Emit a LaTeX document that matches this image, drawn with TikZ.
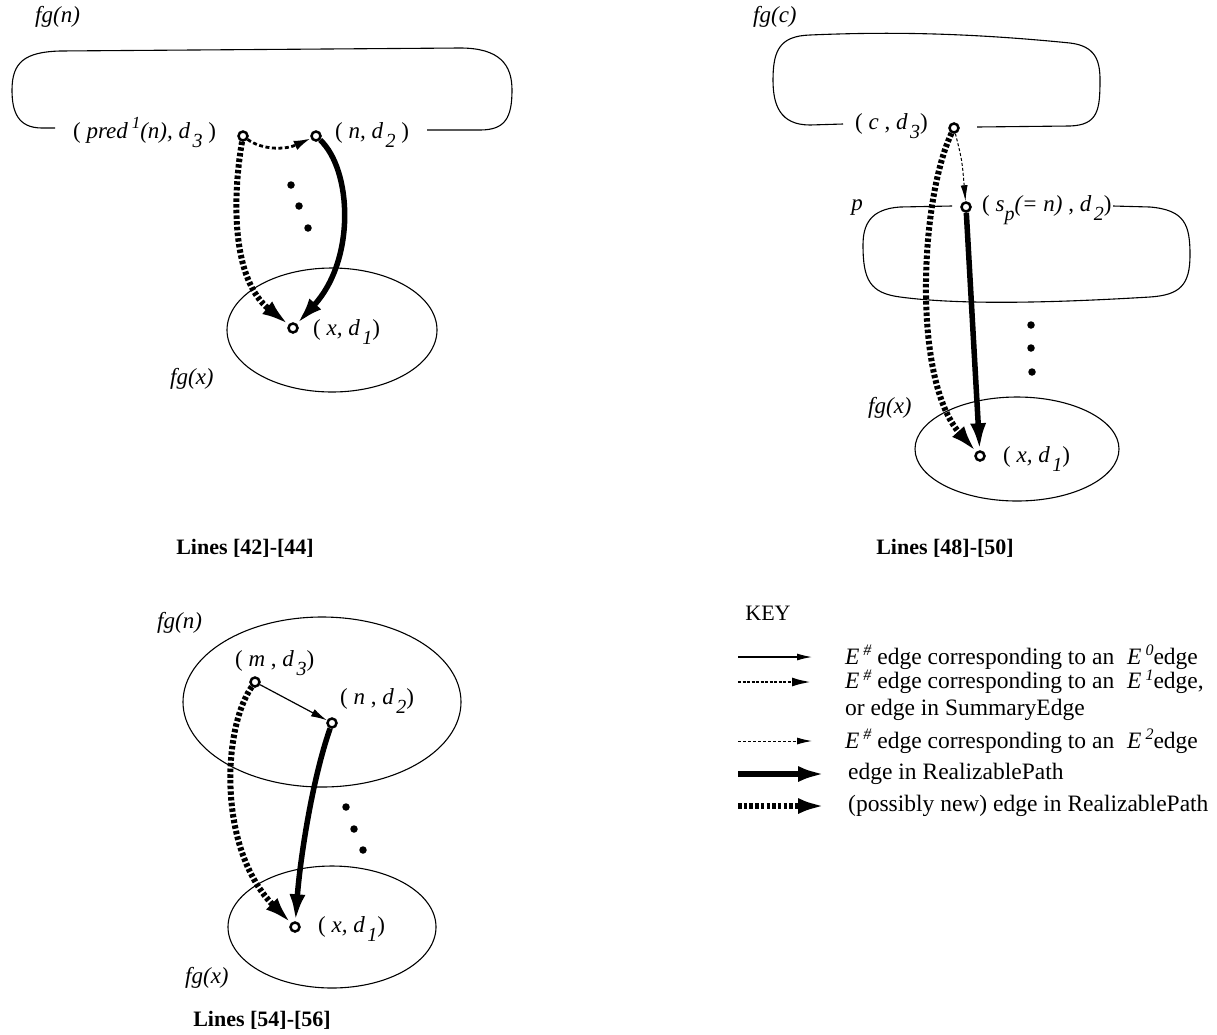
\documentclass[tikz,border=0pt]{standalone}
\usepackage{fontspec}
\setmainfont{Liberation Serif}
\usetikzlibrary{arrows.meta}
\newcommand{\sbs}[1]{\hspace{2.5pt}\raisebox{-0.42em}{\fontsize{20}{20}\selectfont\itshape #1}}
\newcommand{\sps}[1]{\raisebox{0.42em}{\fontsize{17}{17}\selectfont\itshape #1}}
\newcommand{\ksp}[1]{\raisebox{0.36em}{\fontsize{16}{16}\selectfont\itshape #1}}
\begin{document}
\begin{tikzpicture}[x=1pt,y=-1pt,font=\fontsize{23}{26}\selectfont,
  vtx/.style={circle,draw,line width=2.5pt,fill=white,inner sep=0pt,minimum size=9pt},
  lbl/.style={anchor=base west,inner sep=0pt},
  ital/.style={font=\fontsize{23}{26}\selectfont\itshape,inner sep=0pt},
  blob/.style={line width=1.1pt},
  dotm/.style={circle,fill,inner sep=0pt,minimum size=7.5pt},
  e0/.style={line width=1.2pt,-{Latex[length=16pt,width=8pt]}},
  e1/.style={line width=2.8pt,dash pattern=on 4pt off 2.5pt,-{Latex[length=17pt,width=10pt]}},
  e2/.style={line width=1pt,dash pattern=on 3pt off 2pt,-{Latex[length=16pt,width=7pt]}},
  rp/.style={line width=5.5pt,-{Latex[length=27pt,width=16pt]}},
  rpn/.style={line width=6pt,dash pattern=on 3.5pt off 2.2pt,-{Latex[length=27pt,width=16pt]}},
  captxt/.style={font=\fontsize{22}{24}\selectfont\bfseries,inner sep=0pt},
  keytxt/.style={anchor=west,inner sep=0pt,font=\fontsize{23.5}{25}\selectfont},
  keytxtb/.style={anchor=west,inner sep=0pt,font=\fontsize{23.5}{25}\selectfont}
]
\useasboundingbox (0,0) rectangle (1217,1034);

% ---------------- Panel 1 ----------------
\node[ital,anchor=west] (fgn1) at (35,17) {fg(n)};
\draw[blob] (55,128) -- (42,128) .. controls (18,128) and (12,112) .. (12,90)
  .. controls (12,62) and (25,52) .. (60,51) -- (460,48)
  .. controls (500,48) and (512,65) .. (512,90)
  .. controls (512,118) and (505,130) .. (480,130) -- (427,130);
\draw[blob] (332,330) ellipse [x radius=105, y radius=62];
\node[ital,anchor=west] (fgx1) at (170,379) {fg(x)};
\node[vtx] (p1) at (243,136) {};
\node[vtx] (n1) at (316,136) {};
\node[vtx] (x1) at (293,328) {};
\node[lbl] (lp1) at (73,138) {( \textit{pred}\,\sps{1}\textit{(n), d}\sbs{3} )};
\node[lbl] (ln1) at (335,138) {( \textit{n, d}\sbs{2} )};
\node[lbl] (lx1) at (313,335) {( \textit{x, d}\sbs{1})};
\node[dotm] (d11) at (291,185) {};
\node[dotm] (d12) at (299,206) {};
\node[dotm] (d13) at (308,228) {};
\draw[e1] (p1) .. controls (262,150) and (285,150) .. (n1);
\draw[rpn] (p1) .. controls (232,200) and (232,280) .. (x1);
\draw[rp] (n1) .. controls (352,170) and (356,260) .. (x1);
\node[captxt] (c1) at (245,548) {Lines [42]-[44]};

% ---------------- Panel 2 ----------------
\node[ital,anchor=west] (fgc2) at (753,17) {fg(c)};
\draw[blob] (843,124) -- (810,125) .. controls (780,125) and (773,105) .. (773,80)
  .. controls (773,50) and (780,36) .. (810,35)
  .. controls (880,32) and (960,32) .. (1070,43)
  .. controls (1095,46) and (1100,60) .. (1100,80)
  .. controls (1100,110) and (1098,125) .. (1070,126) -- (977,127);
\draw[blob] (952,206) -- (900,207) .. controls (870,209) and (863,225) .. (863,245)
  .. controls (863,280) and (870,293) .. (900,297)
  .. controls (960,305) and (1050,303) .. (1150,297)
  .. controls (1180,295) and (1190,285) .. (1190,255)
  .. controls (1190,225) and (1185,210) .. (1150,207) -- (1113,206);
\draw[blob] (1017,449) ellipse [x radius=102, y radius=52];
\node[ital] (pp2) at (857,208) {p};
\node[ital,anchor=west] (fgx2) at (868,408) {fg(x)};
\node[vtx] (c2) at (954,128) {};
\node[vtx] (s2) at (966,207) {};
\node[vtx] (x2) at (980,456) {};
\node[lbl] (lc2) at (855,129) {( \textit{c} , \textit{d}\sbs{3})};
\node[lbl] (ls2) at (982,211) {( \textit{s}\raisebox{-0.42em}{\fontsize{20}{20}\selectfont\itshape p}\textit{(= n)} , \textit{d}\sbs{2})};
\node[lbl] (lx2) at (1003,462) {( \textit{x, d}\sbs{1})};
\node[dotm] (d21) at (1031,325) {};
\node[dotm] (d22) at (1031,348) {};
\node[dotm] (d23) at (1032,372) {};
\draw[e2] (c2) .. controls (962,160) .. (s2);
\draw[rpn] (c2) .. controls (920,200) and (912,380) .. (x2);
\draw[rp] (s2) -- (x2);
\node[captxt] (c2cap) at (945,548) {Lines [48]-[50]};

% ---------------- Panel 3 ----------------
\node[ital,anchor=west] (fgn3) at (157,623) {fg(n)};
\draw[blob] (322,702) ellipse [x radius=139, y radius=85];
\draw[blob] (332,927) ellipse [x radius=104, y radius=61];
\node[ital,anchor=west] (fgx3) at (185,978) {fg(x)};
\node[vtx] (m3) at (255,682) {};
\node[vtx] (n3) at (332,723) {};
\node[vtx] (x3) at (295,927) {};
\node[lbl] (lm3) at (235,666) {( \textit{m} , \textit{d}\sbs{3})};
\node[lbl] (ln3) at (340,704) {( \textit{n} , \textit{d}\sbs{2})};
\node[lbl] (lx3) at (318,932) {( \textit{x, d}\sbs{1})};
\node[dotm] (d31) at (346,807) {};
\node[dotm] (d32) at (354,829) {};
\node[dotm] (d33) at (363,850) {};
\draw[e0] (m3) -- (n3);
\draw[rpn] (m3) .. controls (222,730) and (218,850) .. (x3);
\draw[rp] (n3) .. controls (312,780) and (300,860) .. (x3);
\node[captxt] (c3) at (262,1020) {Lines [54]-[56]};

% ---------------- Key ----------------
\node[inner sep=0pt,font=\fontsize{22}{24}\selectfont] (key) at (768,613) {KEY};
\coordinate (k1a) at (738,657); \coordinate (k1b) at (812,657);
\coordinate (k2a) at (738,682); \coordinate (k2b) at (812,682);
\coordinate (k3a) at (738,741); \coordinate (k3b) at (812,741);
\coordinate (k4a) at (738,774); \coordinate (k4b) at (825,774);
\coordinate (k5a) at (738,806); \coordinate (k5b) at (825,806);
\draw[e0,-{Latex[length=15pt,width=7pt]}] (k1a) -- (k1b);
\draw[e1,dash pattern=on 3pt off 1.5pt,-{Latex[length=20pt,width=9pt]}] (k2a) -- (k2b);
\draw[e2,-{Latex[length=15pt,width=7pt]}] (k3a) -- (k3b);
\draw[rp] (k4a) -- (k4b);
\draw[rpn] (k5a) -- (k5b);
\node[keytxt] (t1) at (845,657) {\textit{E}\,\ksp{\#} edge corresponding to an\hspace{13pt}\textit{E}\,\ksp{0}edge};
\node[keytxt] (t2) at (845,682) {\textit{E}\,\ksp{\#} edge corresponding to an\hspace{13pt}\textit{E}\,\ksp{1}edge,};
\node[keytxt] (t2b) at (845,710) {or edge in SummaryEdge};
\node[keytxt] (t3) at (845,741) {\textit{E}\,\ksp{\#} edge corresponding to an\hspace{13pt}\textit{E}\,\ksp{2}edge};
\node[keytxtb] (t4) at (848,774) {edge in RealizablePath};
\node[keytxtb] (t5) at (848,806) {(possibly new) edge in RealizablePath};
\end{tikzpicture}
\end{document}
